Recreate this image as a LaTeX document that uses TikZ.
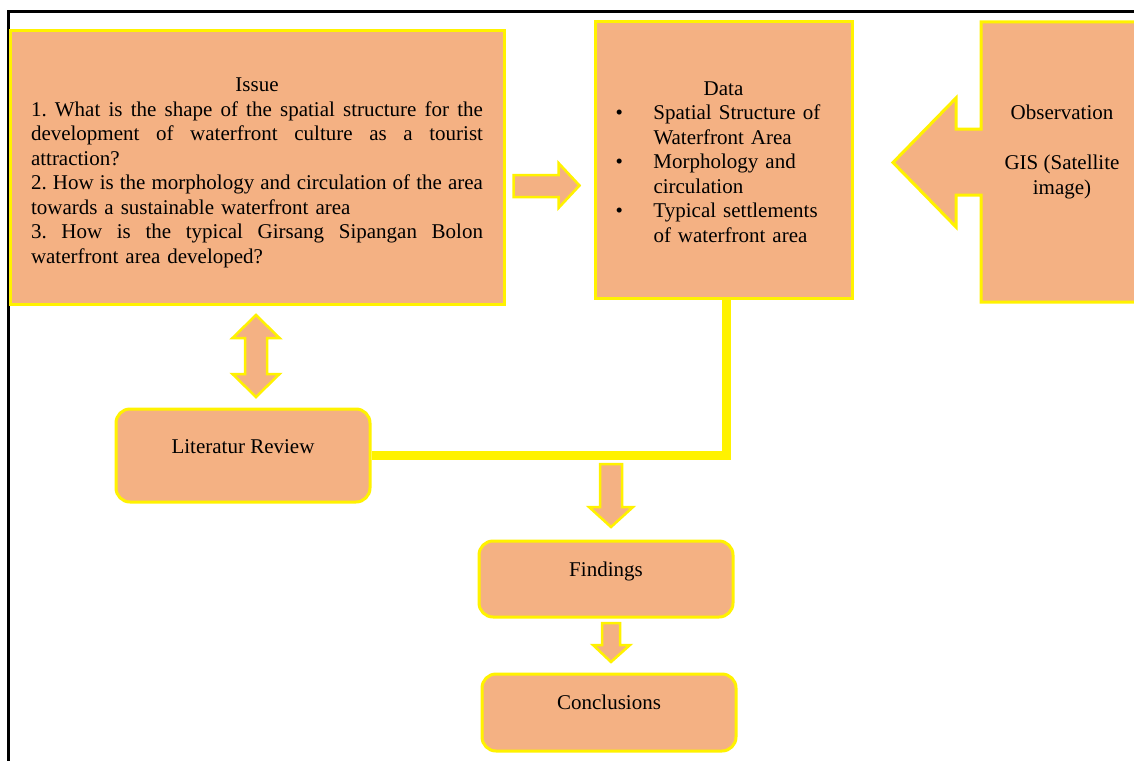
\documentclass[tikz,border=0pt]{standalone}
\usepackage{fontspec}
\setmainfont{Liberation Serif}
\usetikzlibrary{calc}
\definecolor{peach}{RGB}{244,177,131}
\newcommand{\jline}[1]{\makebox[452pt][s]{\spaceskip=0.25em plus 1fil\relax #1}}
\frenchspacing
\begin{document}
\begin{tikzpicture}[x=1pt,y=-1pt,
  box/.style={draw=yellow, line width=3pt, fill=peach, inner sep=0pt,
    font=\fontsize{21}{24.5}\selectfont, text=black},
  rbox/.style={box, rounded corners=14pt},
  barrow/.style={draw=yellow, line width=2.5pt, fill=peach, line join=miter},
  txt/.style={font=\fontsize{21}{25}\selectfont, text=black, inner sep=0pt}]
\useasboundingbox (0,0) rectangle (1134,760);
\fill[white] (0,0) rectangle (1134,760);
% outer frame (top and left edges visible)
\draw[black, line width=2.5pt] (8.7,770) -- (8.7,11.3) -- (1145,11.3);

% Issue box
\node[box, minimum width=494pt, minimum height=273pt, text width=452pt, align=left] (issue) at (257,167.5)
{\rule{0pt}{24pt}\makebox[452pt]{Issue}\\
\jline{1. What is the shape of the spatial structure for the}\\
\jline{development of waterfront culture as a tourist}\\
attraction?\\
\jline{2. How is the morphology and circulation of the area}\\
towards a sustainable waterfront area\\
\jline{3. How is the typical Girsang Sipangan Bolon}\\
waterfront area developed?};

% Data box
\node[box, minimum width=257pt, minimum height=276pt, text width=222pt, align=left] (data) at (723.5,160)
{\rule{0pt}{18pt}\makebox[222pt]{Data}\\
\makebox[41pt][l]{\hspace{3pt}\textbullet}Spatial Structure of\\
\hspace*{41pt}Waterfront Area\\
\makebox[41pt][l]{\hspace{3pt}\textbullet}Morphology and\\
\hspace*{41pt}circulation\\
\makebox[41pt][l]{\hspace{3pt}\textbullet}Typical settlements\\
\hspace*{41pt}of waterfront area};

% Observation callout (left arrow callout)
\draw[barrow, line width=3pt] (1150,22) -- (981,22) -- (981,129) -- (956,129) -- (956,98) -- (893,162.5)
  -- (956,227) -- (956,195) -- (981,195) -- (981,302) -- (1150,302) -- cycle;
\node[txt, align=center] (obs) at (1062,151.5) {Observation\\[25pt]GIS (Satellite\\image)};

% small right arrow Issue -> Data
\draw[barrow] ($(issue.east)+(8,7.5)$) coordinate (ra) -- ++(45,0) -- ++(0,-12) -- ++(21,22.5) -- ++(-21,22.5) -- ++(0,-11) -- ++(-45,0) -- cycle;

% Literatur Review
\node[rbox, minimum width=254pt, minimum height=93pt] (lit) at (243,455.5)
  {\raisebox{2.5pt}[0pt][0pt]{Literatur Review}};

% double arrow Issue <-> Literatur
\draw[barrow] (256,315) -- (279.5,338) -- (267,338) -- (267,374) -- (279.5,374) -- (256,397)
  -- (232.5,374) -- (245,374) -- (245,338) -- (232.5,338) -- cycle;

% Findings
\node[rbox, minimum width=254pt, minimum height=76pt] (find) at (606,579)
  {\raisebox{3pt}[0pt][0pt]{Findings}};

% Conclusions
\node[rbox, minimum width=254pt, minimum height=77pt] (conc) at (609,712.5)
  {\raisebox{3.5pt}[0pt][0pt]{Conclusions}};

% yellow connector Data -> Literatur junction
\draw[yellow, line width=9pt, line join=miter] ($(data.south)+(3,0)$) |- (lit.east);

% down arrow junction -> Findings
\draw[barrow] (600,464) -- (622,464) -- (622,507) -- (633,507) -- (611,527) -- (589,507) -- (600,507) -- cycle;

% down arrow Findings -> Conclusions
\draw[barrow] (602,623) -- (620,623) -- (620,645) -- (630,645) -- (611,662) -- (593,645) -- (602,645) -- cycle;
\end{tikzpicture}
\end{document}
